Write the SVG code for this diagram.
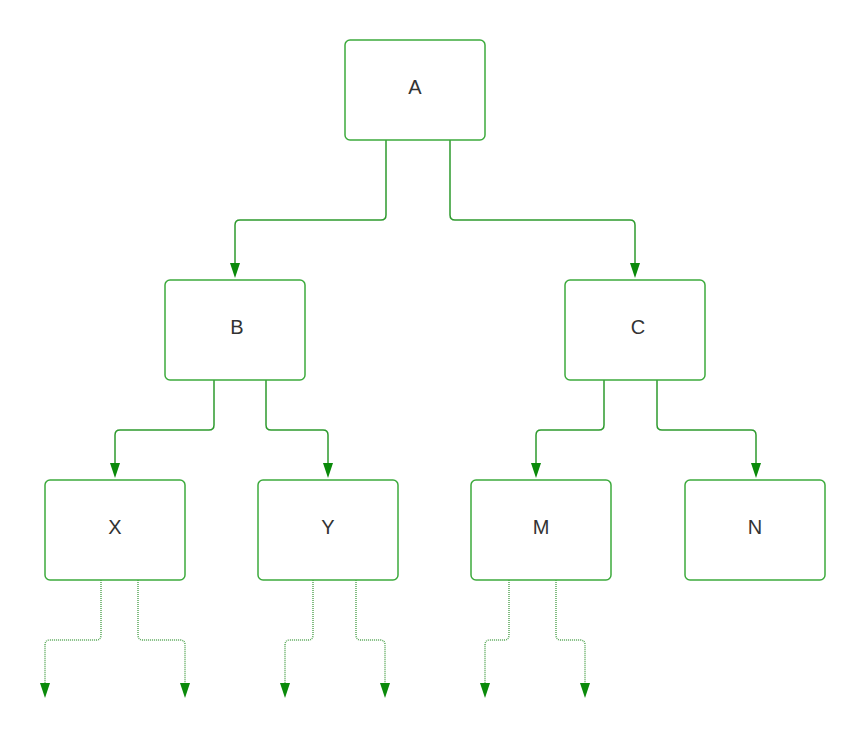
<svg xmlns="http://www.w3.org/2000/svg" width="865" height="738" viewBox="0 0 865 738">
<style>
.box{fill:#fff;stroke:#3daa3d;stroke-width:1.5}
.lbl{font-family:"Liberation Sans",Arial,sans-serif;font-size:20px;fill:#333;text-anchor:middle}
.ln{fill:none;stroke:#2e9a2e;stroke-width:1.5}
.dot{fill:none;stroke:#5aa85a;stroke-width:1.5;stroke-dasharray:1 1}
</style>
<rect width="865" height="738" fill="#fff"/>
<g id="connectors">
<path class="ln" d="M386,140 V215 Q386,220 381,220 H240 Q235,220 235,225 V270"/>
<path class="ln" d="M450,140 V215 Q450,220 455,220 H630 Q635,220 635,225 V270"/>
<path class="ln" d="M214,380 V425 Q214,430 209,430 H120 Q115,430 115,435 V470"/>
<path class="ln" d="M266,380 V425 Q266,430 271,430 H323 Q328,430 328,435 V470"/>
<path class="ln" d="M604,380 V425 Q604,430 599,430 H541 Q536,430 536,435 V470"/>
<path class="ln" d="M657,380 V425 Q657,430 662,430 H751 Q756,430 756,435 V470"/>
<path class="dot" d="M101,580 V635 Q101,640 96,640 H50 Q45,640 45,645 V690"/>
<path class="dot" d="M138,580 V635 Q138,640 143,640 H180 Q185,640 185,645 V690"/>
<path class="dot" d="M313,580 V635 Q313,640 308,640 H290 Q285,640 285,645 V690"/>
<path class="dot" d="M356,580 V635 Q356,640 361,640 H380 Q385,640 385,645 V690"/>
<path class="dot" d="M509,580 V635 Q509,640 504,640 H490 Q485,640 485,645 V690"/>
<path class="dot" d="M556,580 V635 Q556,640 561,640 H580 Q585,640 585,645 V690"/>
</g>
<g id="arrowheads" fill="#0a8a0a">
<path d="M230,263 L240,263 L235,278 Z"/>
<path d="M630,263 L640,263 L635,278 Z"/>
<path d="M110,463 L120,463 L115,478 Z"/>
<path d="M323,463 L333,463 L328,478 Z"/>
<path d="M531,463 L541,463 L536,478 Z"/>
<path d="M751,463 L761,463 L756,478 Z"/>
<path d="M40,683 L50,683 L45,698 Z"/>
<path d="M180,683 L190,683 L185,698 Z"/>
<path d="M280,683 L290,683 L285,698 Z"/>
<path d="M380,683 L390,683 L385,698 Z"/>
<path d="M480,683 L490,683 L485,698 Z"/>
<path d="M580,683 L590,683 L585,698 Z"/>
</g>
<g id="node-A"><rect class="box" x="345" y="40" width="140" height="100" rx="5"/><text class="lbl" x="415" y="94">A</text></g>
<g id="node-B"><rect class="box" x="165" y="280" width="140" height="100" rx="5"/><text class="lbl" x="237" y="334">B</text></g>
<g id="node-C"><rect class="box" x="565" y="280" width="140" height="100" rx="5"/><text class="lbl" x="638" y="334">C</text></g>
<g id="node-X"><rect class="box" x="45" y="480" width="140" height="100" rx="5"/><text class="lbl" x="115" y="534">X</text></g>
<g id="node-Y"><rect class="box" x="258" y="480" width="140" height="100" rx="5"/><text class="lbl" x="328" y="534">Y</text></g>
<g id="node-M"><rect class="box" x="471" y="480" width="140" height="100" rx="5"/><text class="lbl" x="541" y="534">M</text></g>
<g id="node-N"><rect class="box" x="685" y="480" width="140" height="100" rx="5"/><text class="lbl" x="755" y="534">N</text></g>
</svg>
